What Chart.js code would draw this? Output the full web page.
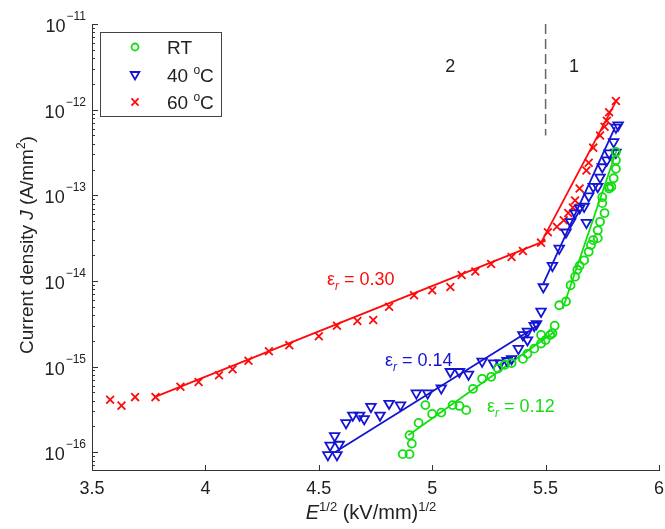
<!DOCTYPE html>
<html>
<head>
<meta charset="utf-8">
<title>Current density vs E^1/2</title>
<script src="https://cdn.jsdelivr.net/npm/chart.js@4.4.1/dist/chart.umd.min.js"></script>
<style>
  html, body { margin: 0; padding: 0; background: #fff; }
  #wrap { width: 665px; height: 529px; }
</style>
</head>
<body>
<div id="wrap"><canvas id="jChart" width="665" height="529"></canvas></div>
<script>
// E^(1/2) in (kV/mm)^(1/2) and J in A/mm^2

var rtX = [4.87, 4.90, 4.91, 4.90, 4.94, 4.97, 5.00, 5.04, 5.09, 5.12, 5.15, 5.18, 5.22, 5.26, 5.29,
           5.32, 5.35, 5.40, 5.42, 5.45, 5.48, 5.48, 5.50, 5.52, 5.53, 5.54, 5.56, 5.59, 5.61, 5.63,
           5.64, 5.65, 5.67, 5.69, 5.70, 5.71, 5.73, 5.73, 5.74, 5.76, 5.75, 5.75, 5.78, 5.78, 5.79,
           5.80, 5.81, 5.81, 5.81];
var rtJ = [9.5e-17, 9.5e-17, 1.26e-16, 1.58e-16, 2.2e-16, 3.55e-16, 2.8e-16, 2.9e-16, 3.55e-16, 3.47e-16,
           3.1e-16, 5.5e-16, 7.2e-16, 7.6e-16, 9.5e-16, 1.05e-15, 1.1e-15, 1.23e-15, 1.41e-15, 1.62e-15,
           1.86e-15, 2.34e-15, 2.04e-15, 2.34e-15, 2.45e-15, 3.0e-15, 5.2e-15, 5.75e-15, 8.9e-15, 1.12e-14,
           1.35e-14, 1.51e-14, 1.74e-14, 2.19e-14, 2.63e-14, 3.0e-14, 3.9e-14, 3.16e-14, 4.9e-14, 6.2e-14,
           8.1e-14, 9.5e-14, 1.2e-13, 1.26e-13, 1.26e-13, 1.58e-13, 2.04e-13, 2.57e-13, 3.2e-13];

var t40X = [4.54, 4.58, 4.55, 4.59, 4.57, 4.62, 4.65, 4.68, 4.70, 4.73, 4.77, 4.81, 4.86, 4.93, 4.98,
            5.04, 5.08, 5.12, 5.16, 5.22, 5.27, 5.30, 5.33, 5.35, 5.38, 5.40, 5.42, 5.42, 5.45, 5.46,
            5.48, 5.49, 5.53, 5.56, 5.59, 5.61, 5.63, 5.65, 5.67, 5.68, 5.69, 5.71, 5.73, 5.74, 5.75,
            5.77, 5.78, 5.81, 5.80, 5.81, 5.82];
var t40J = [9.3e-17, 9.3e-17, 1.2e-16, 1.23e-16, 1.55e-16, 2.2e-16, 2.7e-16, 2.7e-16, 2.45e-16, 3.4e-16,
            2.7e-16, 3.7e-16, 3.55e-16, 4.9e-16, 4.9e-16, 5.6e-16, 8.7e-16, 8.7e-16, 8.1e-16, 1.15e-15,
            1.1e-15, 1.1e-15, 1.17e-15, 1.23e-15, 1.62e-15, 2.34e-15, 2.04e-15, 2.57e-15, 3.0e-15, 3.16e-15,
            4.4e-15, 8.5e-15, 1.51e-14, 2.4e-14, 3.7e-14, 4.9e-14, 6.2e-14, 7.1e-14, 7.4e-14, 4.8e-14,
            9.8e-14, 1.26e-13, 1.26e-13, 1.62e-13, 2.14e-13, 2.57e-13, 3.1e-13, 3.16e-13, 4.2e-13, 6.2e-13,
            6.6e-13];

var t60X = [3.58, 3.63, 3.69, 3.78, 3.89, 3.97, 4.06, 4.12, 4.19, 4.28, 4.37, 4.50, 4.58, 4.67, 4.74,
            4.81, 4.92, 5.00, 5.08, 5.13, 5.19, 5.26, 5.35, 5.40, 5.48, 5.51, 5.55, 5.58, 5.60, 5.62,
            5.63, 5.65, 5.68, 5.69, 5.71, 5.74, 5.76, 5.77, 5.78, 5.81];
var t60J = [4.1e-16, 3.5e-16, 4.4e-16, 4.4e-16, 5.8e-16, 6.6e-16, 7.9e-16, 9.3e-16, 1.17e-15, 1.51e-15,
            1.78e-15, 2.26e-15, 3.0e-15, 3.4e-15, 3.5e-15, 5.0e-15, 6.8e-15, 7.8e-15, 8.5e-15, 1.17e-14,
            1.29e-14, 1.58e-14, 1.9e-14, 2.24e-14, 2.8e-14, 3.7e-14, 4.3e-14, 5.1e-14, 6.2e-14, 7.2e-14,
            8.7e-14, 1.2e-13, 1.95e-13, 2.4e-13, 3.6e-13, 5.0e-13, 6.3e-13, 7.4e-13, 9.3e-13, 1.26e-12];

// fitted lines, region 2 (low) and region 1 (high)
var rtFitLowX = [4.895, 5.541],  rtFitLowJ = [1.58e-16, 2.57e-15];
var rtFitHighX = [5.575, 5.814], rtFitHighJ = [4.7e-15, 3.4e-13];
var t40FitLowX = [4.571, 5.461],  t40FitLowJ = [1.0e-16, 2.95e-15];
var t40FitHighX = [5.49, 5.806],  t40FitHighJ = [9.3e-15, 6.2e-13];
var t60FitLowX = [3.775, 5.50],   t60FitLowJ = [4.4e-16, 2.95e-14];
var t60FitHighX = [5.48, 5.815],  t60FitHighJ = [2.8e-14, 1.32e-12];

// region divider
var dividerX = [5.5, 5.5], dividerJ = [1e-11, 5.0e-13];

var xTickValues = [3.5, 4, 4.5, 5, 5.5, 6];
var xTickLabels = ['3.5', '4', '4.5', '5', '5.5', '6'];
var yTickExps = [-16, -15, -14, -13, -12, -11];

var seriesNames = ['RT', '40', '60'];
var epsLabels = ['0.12', '0.14', '0.30'];

var FONT = '"Liberation Sans", Arial, Helvetica, sans-serif';
var GREEN = '#12de12', BLUE = '#1414d2', RED = '#ff0a0a';

function pts(xs, ys) {
    return xs.map(function (v, i) { return { x: v, y: ys[i] }; });
}

function fitLine(xs, ys, color) {
    return {
        data: pts(xs, ys), showLine: true, borderColor: color, borderWidth: 1.8,
        pointRadius: 0, fill: false
    };
}

// draw a row of text pieces (font / vertical offset), returns total width
function drawRuns(ctx, runs, x, y, measureOnly) {
    var w = 0;
    runs.forEach(function (r) {
        ctx.font = r.f;
        if (!measureOnly) ctx.fillText(r.t, x + w, y + (r.dy || 0));
        w += ctx.measureText(r.t).width;
    });
    return w;
}

function drawMarker(ctx, kind, x, y, r) {
    ctx.beginPath();
    if (kind === 'circle') {
        ctx.arc(x, y, r, 0, Math.PI * 2);
    } else if (kind === 'tri') {
        ctx.moveTo(x - r * 0.866, y - r * 0.5);
        ctx.lineTo(x + r * 0.866, y - r * 0.5);
        ctx.lineTo(x, y + r);
        ctx.closePath();
    } else {
        var d = r * 0.707;
        ctx.moveTo(x - d, y - d); ctx.lineTo(x + d, y + d);
        ctx.moveTo(x + d, y - d); ctx.lineTo(x - d, y + d);
    }
    ctx.stroke();
}

var decor = {
    id: 'decor',
    afterDraw: function (chart) {
        var ctx = chart.ctx, xs = chart.scales.x, ys = chart.scales.y, a = chart.chartArea;
        ctx.save();

        // inward tick marks
        ctx.strokeStyle = '#333';
        ctx.lineWidth = 1;
        ctx.beginPath();
        xTickValues.forEach(function (v) {
            var px = Math.round(xs.getPixelForValue(v)) + 0.5;
            ctx.moveTo(px, a.bottom); ctx.lineTo(px, a.bottom - 5);
        });
        for (var n = -17; n <= -11; n++) {
            for (var m = 1; m <= 9; m++) {
                var v = Number(m + 'e' + n);
                if (v < ys.min || v > ys.max * 1.0001) continue;
                var py = Math.round(ys.getPixelForValue(v)) + 0.5;
                ctx.moveTo(a.left, py); ctx.lineTo(a.left + (m === 1 ? 6 : 3), py);
            }
        }
        ctx.stroke();

        // y tick labels 10^n
        ctx.fillStyle = '#222';
        ctx.textBaseline = 'alphabetic';
        ctx.textAlign = 'left';
        yTickExps.forEach(function (e) {
            var py = ys.getPixelForValue(Number('1e' + e));
            var sup = '\u2212' + Math.abs(e);
            ctx.font = '12px ' + FONT;
            var sw = ctx.measureText(sup).width;
            ctx.fillText(sup, 86 - sw, py - 4);
            ctx.font = '18px ' + FONT;
            var bw = ctx.measureText('10').width;
            ctx.fillText('10', 86 - sw - 1 - bw, py + 8);
        });

        // y axis title
        ctx.save();
        ctx.translate(33, 245);
        ctx.rotate(-Math.PI / 2);
        var yRuns = [
            { t: 'Current density ', f: '19px ' + FONT },
            { t: 'J', f: 'italic 19px ' + FONT },
            { t: ' (A/mm', f: '19px ' + FONT },
            { t: '2', f: '12px ' + FONT, dy: -8 },
            { t: ')', f: '19px ' + FONT }
        ];
        var yw = drawRuns(ctx, yRuns, 0, 0, true);
        drawRuns(ctx, yRuns, -yw / 2, 0);
        ctx.restore();

        // x axis title
        var xRuns = [
            { t: 'E', f: 'italic 20px ' + FONT },
            { t: '1/2', f: '13px ' + FONT, dy: -8 },
            { t: ' (kV/mm)', f: '20px ' + FONT },
            { t: '1/2', f: '13px ' + FONT, dy: -8 }
        ];
        var xw = drawRuns(ctx, xRuns, 0, 0, true);
        drawRuns(ctx, xRuns, 371 - xw / 2, 519);

        // region numbers
        ctx.font = '18px ' + FONT;
        ctx.textAlign = 'center';
        ctx.fillText('2', xs.getPixelForValue(5.08), ys.getPixelForValue(2.75e-12));
        ctx.fillText('1', xs.getPixelForValue(5.625), ys.getPixelForValue(2.75e-12));
        ctx.textAlign = 'left';

        // epsilon_r labels
        var epsPos = [[5.242, 2.96e-16, GREEN], [4.792, 1.01e-15, BLUE], [4.536, 8.93e-15, RED]];
        epsPos.forEach(function (p, i) {
            ctx.fillStyle = p[2];
            drawRuns(ctx, [
                { t: '\u03b5', f: '18px ' + FONT },
                { t: 'r', f: 'italic 12px ' + FONT, dy: 5 },
                { t: ' = ' + epsLabels[i], f: '18px ' + FONT }
            ], xs.getPixelForValue(p[0]), ys.getPixelForValue(p[1]));
        });

        // legend box
        var lx = a.left + 8, ly = a.top + 8;
        ctx.fillStyle = '#fff';
        ctx.fillRect(lx, ly, 122, 85);
        ctx.strokeStyle = '#444';
        ctx.lineWidth = 1;
        ctx.strokeRect(lx + 0.5, ly + 0.5, 121, 84);
        var kinds = ['circle', 'tri', 'cross'], cols = [GREEN, BLUE, RED];
        kinds.forEach(function (k, i) {
            var cy = ly + 15 + i * 27.5;
            ctx.strokeStyle = cols[i];
            ctx.lineWidth = 1.8;
            drawMarker(ctx, k, lx + 35, cy, k === 'circle' ? 3.5 : 5);
            ctx.fillStyle = '#222';
            var runs = [{ t: seriesNames[i], f: '19px ' + FONT }];
            if (i > 0) {
                runs.push({ t: ' ', f: '19px ' + FONT });
                runs.push({ t: 'o', f: '12px ' + FONT, dy: -8 });
                runs.push({ t: 'C', f: '19px ' + FONT });
            }
            drawRuns(ctx, runs, lx + 67, cy + 7);
        });

        ctx.restore();
    }
};

var ctx = document.getElementById('jChart').getContext('2d');

var myChart = new Chart(ctx, {
    type: 'scatter',
    data: {
        datasets: [
            { label: 'RT', data: pts(rtX, rtJ), pointStyle: 'circle', pointRadius: 4,
              borderColor: GREEN, backgroundColor: 'rgba(0,0,0,0)', pointBorderWidth: 1.8 },
            { label: '40 °C', data: pts(t40X, t40J), pointStyle: 'triangle', pointRotation: 180,
              pointRadius: 5.5, borderColor: BLUE, backgroundColor: 'rgba(0,0,0,0)', pointBorderWidth: 1.8 },
            { label: '60 °C', data: pts(t60X, t60J), pointStyle: 'crossRot', pointRadius: 5.5,
              borderColor: RED, backgroundColor: 'rgba(0,0,0,0)', pointBorderWidth: 1.8 },
            fitLine(rtFitLowX, rtFitLowJ, GREEN),
            fitLine(rtFitHighX, rtFitHighJ, GREEN),
            fitLine(t40FitLowX, t40FitLowJ, BLUE),
            fitLine(t40FitHighX, t40FitHighJ, BLUE),
            fitLine(t60FitLowX, t60FitLowJ, RED),
            fitLine(t60FitHighX, t60FitHighJ, RED),
            { data: pts(dividerX, dividerJ), showLine: true, borderColor: '#666', borderWidth: 1.5,
              borderDash: [10, 5], pointRadius: 0 }
        ]
    },
    options: {
        responsive: false,
        animation: false,
        events: [],
        layout: { autoPadding: false, padding: { top: 24, right: 6, left: 0, bottom: 0 } },
        plugins: { legend: { display: false }, tooltip: { enabled: false } },
        scales: {
            x: {
                type: 'linear', min: 3.5, max: 6,
                afterBuildTicks: function (s) { s.ticks = xTickValues.map(function (v) { return { value: v }; }); },
                ticks: {
                    font: { family: FONT, size: 18 }, color: '#222', padding: 8, maxRotation: 0,
                    callback: function (v, i) { return xTickLabels[i]; }
                },
                grid: { display: false, drawTicks: false },
                border: { color: '#333', width: 1 },
                afterFit: function (s) {
                    s.height = 59;
                    s.paddingLeft = 0;
                    s.paddingRight = 0;
                }
            },
            y: {
                type: 'logarithmic', min: 6.2e-17, max: 1e-11,
                ticks: { display: false },
                grid: { display: false, drawTicks: false },
                border: { color: '#333', width: 1 },
                afterFit: function (s) { s.width = 92; }
            }
        }
    },
    plugins: [decor]
});
</script>
</body>
</html>
